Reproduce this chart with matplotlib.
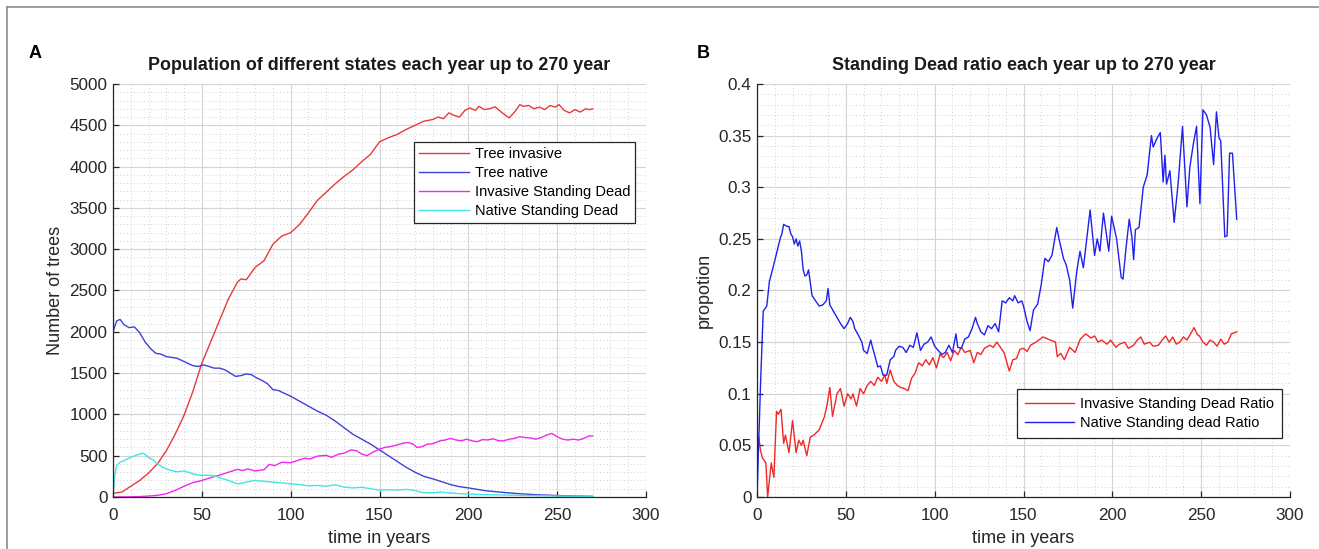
import matplotlib
matplotlib.use('Agg')
import matplotlib.pyplot as plt
from matplotlib.lines import Line2D
from matplotlib.ticker import MultipleLocator

plt.rcParams['font.family'] = ['Liberation Sans', 'DejaVu Sans']

# ---- panel A : population of each state ----
inv_years = [0, 5, 10, 15, 20, 25, 30, 35, 40, 45, 50, 55, 60, 65, 70, 72, 75, 80, 85, 90,
             95, 100, 105, 110, 115, 120, 125, 130, 135, 140, 145, 150, 155, 160, 165, 170,
             175, 180, 183, 186, 189, 192, 195, 198, 201, 204, 206, 209, 212, 215, 218, 221,
             223, 226, 229, 231, 234, 237, 240, 243, 246, 249, 251, 254, 257, 260, 263, 266,
             268, 270]
tree_invasive = [45, 60, 130, 200, 290, 400, 560, 760, 990, 1280, 1620, 1880, 2140, 2400, 2600,
                 2640, 2630, 2780, 2860, 3060, 3160, 3200, 3300, 3440, 3590, 3690, 3790, 3880,
                 3960, 4060, 4150, 4300, 4350, 4390, 4450, 4500, 4550, 4570, 4600, 4580, 4650,
                 4620, 4600, 4680, 4710, 4680, 4730, 4690, 4700, 4725, 4670, 4620, 4590, 4660,
                 4750, 4730, 4740, 4700, 4720, 4690, 4740, 4720, 4750, 4680, 4650, 4690, 4660,
                 4700, 4690, 4700]

nat_years = [0, 2, 4, 6, 9, 12, 15, 18, 21, 24, 27, 30, 33, 36, 39, 42, 45, 48, 51, 54, 57, 60,
             63, 66, 69, 72, 75, 78, 81, 84, 87, 90, 93, 96, 100, 105, 110, 115, 120, 125, 130,
             135, 140, 145, 150, 155, 160, 165, 170, 175, 180, 185, 190, 195, 200, 210, 220,
             230, 240, 250, 260, 270]
tree_native = [2000, 2130, 2150, 2090, 2050, 2060, 1990, 1880, 1800, 1740, 1730, 1700, 1690,
               1680, 1650, 1620, 1590, 1580, 1600, 1580, 1560, 1560, 1540, 1500, 1460, 1470,
               1490, 1480, 1440, 1410, 1370, 1300, 1290, 1260, 1220, 1160, 1100, 1040, 990, 920,
               840, 760, 700, 640, 570, 500, 430, 360, 300, 250, 220, 185, 150, 125, 110, 75, 55,
               38, 26, 18, 12, 8]

isd_years = [0, 10, 15, 20, 25, 30, 35, 40, 45, 50, 55, 60, 65, 70, 73, 76, 80, 85, 88, 91, 95,
             100, 105, 108, 111, 115, 120, 123, 127, 130, 134, 137, 140, 143, 146, 150, 153, 156,
             160, 163, 166, 169, 171, 174, 177, 180, 184, 187, 190, 193, 196, 199, 202, 205,
             208, 211, 214, 217, 220, 223, 226, 229, 232, 235, 238, 241, 244, 247, 250, 253,
             256, 259, 262, 265, 268, 270]
invasive_sd = [0, 2, 5, 12, 20, 40, 80, 130, 175, 200, 235, 265, 300, 335, 320, 340, 315, 330,
               395, 380, 420, 415, 450, 470, 460, 495, 505, 480, 520, 530, 570, 560, 520, 500,
               540, 580, 600, 610, 630, 650, 660, 640, 600, 610, 640, 645, 680, 690, 710, 690,
               680, 700, 680, 670, 695, 690, 705, 680, 680, 700, 710, 730, 720, 715, 700, 720,
               750, 770, 730, 700, 690, 700, 690, 710, 740, 740]

nsd_years = [0, 1, 2, 4, 6, 8, 10, 13, 15, 17, 20, 23, 25, 28, 30, 33, 36, 40, 43, 46, 50, 53,
             56, 60, 65, 70, 73, 76, 80, 85, 90, 95, 100, 105, 110, 115, 120, 125, 130, 135,
             140, 145, 150, 155, 160, 165, 170, 175, 180, 185, 190, 195, 200, 210, 220, 230,
             240, 250, 260, 270]
native_sd = [0, 260, 380, 420, 440, 460, 480, 505, 520, 530, 480, 440, 400, 360, 340, 320, 305,
             315, 295, 275, 260, 265, 260, 235, 200, 160, 170, 185, 200, 190, 180, 170, 160,
             150, 135, 140, 130, 148, 120, 110, 118, 100, 82, 88, 85, 92, 78, 50, 52, 60, 48,
             40, 36, 28, 24, 20, 16, 12, 9, 8]

# ---- panel B : standing dead ratio ----
inv_ratio_years = [1, 2, 3, 5, 6, 8, 9.5, 11, 12, 13.5, 15, 16, 18, 20, 22, 23.5, 25, 26, 28,
                   30, 32, 35, 38, 39.5, 41, 42.5, 45, 47, 49, 51, 53, 54, 56, 58, 60, 62, 64,
                   66, 68, 70, 72, 73, 75, 77, 79, 81, 83, 85, 87, 89, 91, 93, 95, 97, 99, 101,
                   103, 105, 107, 109, 111, 113, 115, 117, 120, 122, 124, 126, 128, 131, 133,
                   135, 137, 139, 141, 142, 144, 146, 148, 150, 152, 154, 157, 161, 165, 168,
                   169, 171, 173, 176, 179, 182, 185, 188, 190, 192, 194, 197, 199, 202, 204,
                   207, 209, 212, 214, 216, 218, 221, 223, 226, 228, 230, 232, 234, 236, 238,
                   240, 242, 244, 246, 248, 249, 251, 253, 255, 257, 259, 261, 263, 265, 267,
                   270]
invasive_ratio = [0.058, 0.045, 0.038, 0.033, 0.0, 0.033, 0.019, 0.083, 0.08, 0.085, 0.052,
                  0.06, 0.043, 0.074, 0.043, 0.055, 0.05, 0.055, 0.04, 0.058, 0.06, 0.065,
                  0.078, 0.09, 0.106, 0.078, 0.1, 0.105, 0.088, 0.1, 0.095, 0.1, 0.088, 0.105,
                  0.1, 0.108, 0.112, 0.108, 0.116, 0.112, 0.118, 0.11, 0.123, 0.112, 0.108,
                  0.106, 0.105, 0.103, 0.115, 0.12, 0.13, 0.127, 0.133, 0.128, 0.135, 0.125,
                  0.138, 0.135, 0.14, 0.132, 0.142, 0.138, 0.145, 0.14, 0.142, 0.13, 0.14,
                  0.138, 0.144, 0.147, 0.145, 0.15, 0.145, 0.14, 0.128, 0.122, 0.133, 0.134,
                  0.143, 0.144, 0.141, 0.147, 0.15, 0.155, 0.152, 0.15, 0.136, 0.139, 0.133,
                  0.145, 0.14, 0.153, 0.158, 0.154, 0.156, 0.15, 0.152, 0.148, 0.152, 0.145,
                  0.148, 0.15, 0.144, 0.147, 0.152, 0.155, 0.148, 0.15, 0.146, 0.147, 0.152,
                  0.156, 0.15, 0.155, 0.148, 0.15, 0.155, 0.152, 0.158, 0.164, 0.157, 0.156,
                  0.15, 0.147, 0.152, 0.15, 0.146, 0.153, 0.148, 0.15, 0.158, 0.16]

nat_ratio_years = [0, 2, 3.5, 5.5, 7, 9, 11, 13, 14, 15, 17, 18, 19, 20, 21, 22, 23, 24, 25, 26,
                   27, 28, 29, 31, 33, 35, 37, 39, 40, 41, 43, 45, 47, 49, 51, 52.5, 54, 55, 57,
                   59, 60, 62, 64, 65, 66, 68, 69.5, 71, 73, 75, 77, 78, 80, 82, 84, 86, 88, 90,
                   92, 94, 96, 98, 100, 102, 104, 106, 108, 110, 112, 113, 115, 117, 119, 121,
                   123, 124, 126, 128, 130, 132, 134, 136, 138, 140, 142, 144, 145, 147, 149,
                   150, 152, 153.7, 155.6, 158, 160, 162, 164, 166, 168.7, 170, 172.5, 174, 176,
                   177.7, 180, 181.8, 183.7, 187.5, 190, 191.5, 193, 195, 198, 199.6, 202.4,
                   205, 206, 207.7, 209.5, 211, 212, 213, 215, 217.4, 219.6, 222, 223, 225, 227,
                   228.6, 229.6, 230.5, 232.4, 234.8, 237, 239.5, 240.8, 242, 243.6, 245.5,
                   247.4, 249.3, 251, 253, 255, 257, 258.6, 260, 261, 263.3, 264.6, 266, 267.6,
                   270]
native_ratio = [0.0, 0.11, 0.18, 0.185, 0.209, 0.222, 0.236, 0.25, 0.255, 0.264, 0.262, 0.262,
                0.255, 0.252, 0.245, 0.25, 0.243, 0.248, 0.238, 0.22, 0.214, 0.215, 0.22, 0.195,
                0.19, 0.185, 0.186, 0.19, 0.202, 0.186, 0.18, 0.174, 0.168, 0.163, 0.168, 0.174,
                0.17, 0.163, 0.157, 0.15, 0.142, 0.139, 0.152, 0.145, 0.139, 0.126, 0.127,
                0.118, 0.118, 0.133, 0.136, 0.142, 0.146, 0.145, 0.14, 0.147, 0.145, 0.159,
                0.142, 0.148, 0.15, 0.155, 0.146, 0.142, 0.138, 0.14, 0.147, 0.14, 0.158, 0.145,
                0.144, 0.153, 0.155, 0.163, 0.174, 0.168, 0.16, 0.157, 0.166, 0.163, 0.168,
                0.16, 0.19, 0.188, 0.193, 0.19, 0.195, 0.188, 0.19, 0.185, 0.17, 0.161, 0.181,
                0.187, 0.206, 0.231, 0.228, 0.234, 0.261, 0.25, 0.231, 0.225, 0.21, 0.183,
                0.219, 0.238, 0.222, 0.278, 0.234, 0.25, 0.238, 0.275, 0.238, 0.272, 0.25,
                0.2125, 0.211, 0.241, 0.269, 0.252, 0.23, 0.259, 0.261, 0.30, 0.312, 0.35,
                0.339, 0.347, 0.353, 0.305, 0.331, 0.303, 0.316, 0.266, 0.303, 0.359, 0.319,
                0.281, 0.319, 0.341, 0.359, 0.284, 0.375, 0.37, 0.358, 0.322, 0.373, 0.348,
                0.345, 0.252, 0.253, 0.333, 0.333, 0.269]

W, H = 1319, 549
fig = plt.figure(figsize=(W / 100, H / 100), dpi=100)

# outer frame (only left and top edges are visible in the crop)
fig.add_artist(Line2D([7 / W, 7 / W], [-0.1, 1 - 7 / H], transform=fig.transFigure,
                      color='#8c8c8c', lw=1.2))
fig.add_artist(Line2D([7 / W, 1.1], [1 - 7 / H, 1 - 7 / H], transform=fig.transFigure,
                      color='#8c8c8c', lw=1.2))

ax_top, ax_bot = 84, 497
axA = fig.add_axes([113 / W, (H - ax_bot) / H, 533 / W, (ax_bot - ax_top) / H])
axB = fig.add_axes([757 / W, (H - ax_bot) / H, 533 / W, (ax_bot - ax_top) / H])

txt = '#262626'


def setup(ax, ymax, ymajor, yminor):
    ax.set_xlim(0, 300)
    ax.set_ylim(0, ymax)
    ax.xaxis.set_major_locator(MultipleLocator(50))
    ax.xaxis.set_minor_locator(MultipleLocator(10))
    ax.yaxis.set_major_locator(MultipleLocator(ymajor))
    ax.yaxis.set_minor_locator(MultipleLocator(yminor))
    ax.grid(True, which='major', color='#d4d4d4', lw=0.8, ls='-')
    ax.grid(True, which='minor', color='#cfcfcf', lw=0.7, ls=(0, (1, 2.5)))
    ax.set_axisbelow(True)
    for s in ['top', 'right']:
        ax.spines[s].set_visible(False)
    for s in ['left', 'bottom']:
        ax.spines[s].set_color(txt)
        ax.spines[s].set_linewidth(0.9)
    ax.tick_params(which='major', direction='in', length=4, width=0.9, colors=txt,
                   labelsize=12.3)
    ax.tick_params(axis='x', pad=8)
    ax.tick_params(axis='y', pad=4)
    ax.tick_params(which='minor', length=0)
    ax.set_xlabel('time in years', fontsize=13, color=txt, labelpad=5)


setup(axA, 5000, 500, 100)
axA.plot(inv_years, tree_invasive, color='#e83a3a', lw=1.0, label='Tree invasive')
axA.plot(nat_years, tree_native, color='#4040d8', lw=1.0, label='Tree native')
axA.plot(isd_years, invasive_sd, color='#f028f0', lw=1.0, label='Invasive Standing Dead')
axA.plot(nsd_years, native_sd, color='#40e6e6', lw=1.0, label='Native Standing Dead')
axA.set_ylabel('Number of trees', fontsize=13, color=txt, labelpad=4)
axA.set_title('Population of different states each year up to 270 year',
              fontsize=12.9, fontweight='bold', color='#1a1a1a', pad=10)
legA = axA.legend(loc='upper left', bbox_to_anchor=(0.565, 0.86), borderaxespad=0,
                  fontsize=10.5, handlelength=3.4, labelspacing=0.35, fancybox=False,
                  framealpha=1, edgecolor='#262626', borderpad=0.35, handletextpad=0.4)
legA.get_frame().set_linewidth(0.9)

setup(axB, 0.4, 0.05, 0.01)
axB.yaxis.set_major_formatter(plt.FuncFormatter(lambda v, p: ('%g' % round(v, 2))))
axB.plot(inv_ratio_years, invasive_ratio, color='#f02828', lw=1.0,
         label='Invasive Standing Dead Ratio')
axB.plot(nat_ratio_years, native_ratio, color='#2020f0', lw=1.0,
         label='Native Standing dead Ratio')
axB.set_ylabel('propotion', fontsize=13, color=txt, labelpad=4)
axB.set_title('Standing Dead ratio each year up to 270 year',
              fontsize=12.9, fontweight='bold', color='#1a1a1a', pad=10)
legB = axB.legend(loc='upper left', bbox_to_anchor=(0.487, 0.262), borderaxespad=0,
                  fontsize=10.5, handlelength=3.4, labelspacing=0.35, fancybox=False,
                  framealpha=1, edgecolor='#262626', borderpad=0.55, handletextpad=0.4)
legB.get_frame().set_linewidth(0.9)

fig.text(35 / W, 1 - 53 / H, 'A', fontsize=13, fontweight='bold', ha='center', va='center')
fig.text(703 / W, 1 - 53 / H, 'B', fontsize=13, fontweight='bold', ha='center', va='center')

fig.savefig('out.png', dpi=100)
